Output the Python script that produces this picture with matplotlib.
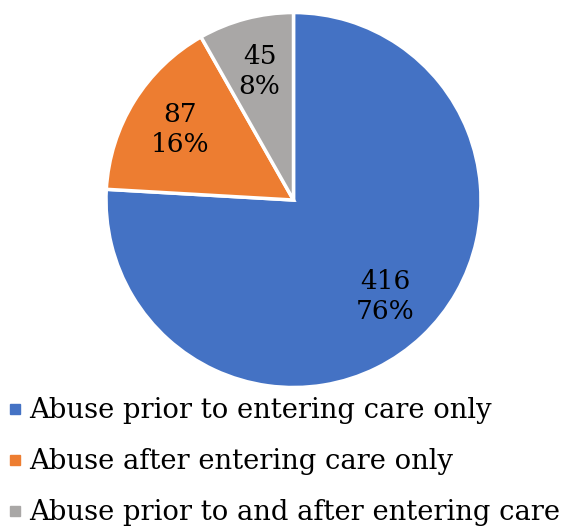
import matplotlib.pyplot as plt
from matplotlib.lines import Line2D

categories = ["Abuse prior to entering care only",
              "Abuse after entering care only",
              "Abuse prior to and after entering care"]
counts = [416, 87, 45]
colors = ["#4472C4", "#ED7D31", "#A9A7A6"]

plt.rcParams['font.family'] = ['DejaVu Serif']

fig = plt.figure(figsize=(5.66, 5.31), dpi=100)
ax = fig.add_axes([0.1873, 0.2702, 0.6625, 0.7062])

total = sum(counts)


def fmt(pct):
    n = int(round(pct * total / 100))
    return f"{n}\n{pct:.0f}%"


wedges, texts, autotexts = ax.pie(counts, colors=colors, startangle=90, counterclock=False,
                                  autopct=fmt, pctdistance=0.71,
                                  wedgeprops=dict(edgecolor="white", linewidth=2.5),
                                  textprops=dict(fontsize=19, color="black", linespacing=1.25))
ax.set_xlim(-1, 1)
ax.set_ylim(-1, 1)

handles = [Line2D([], [], marker="s", linestyle="none", markersize=7.5,
                  markerfacecolor=c, markeredgecolor=c) for c in colors]
fig.legend(handles, categories, loc="upper left", bbox_to_anchor=(0.012, 0.252),
           frameon=False, fontsize=19.7, handletextpad=0.2, handlelength=0.6,
           labelspacing=0.88, borderpad=0.0, borderaxespad=0.0)

fig.savefig("out.png", dpi=100)
